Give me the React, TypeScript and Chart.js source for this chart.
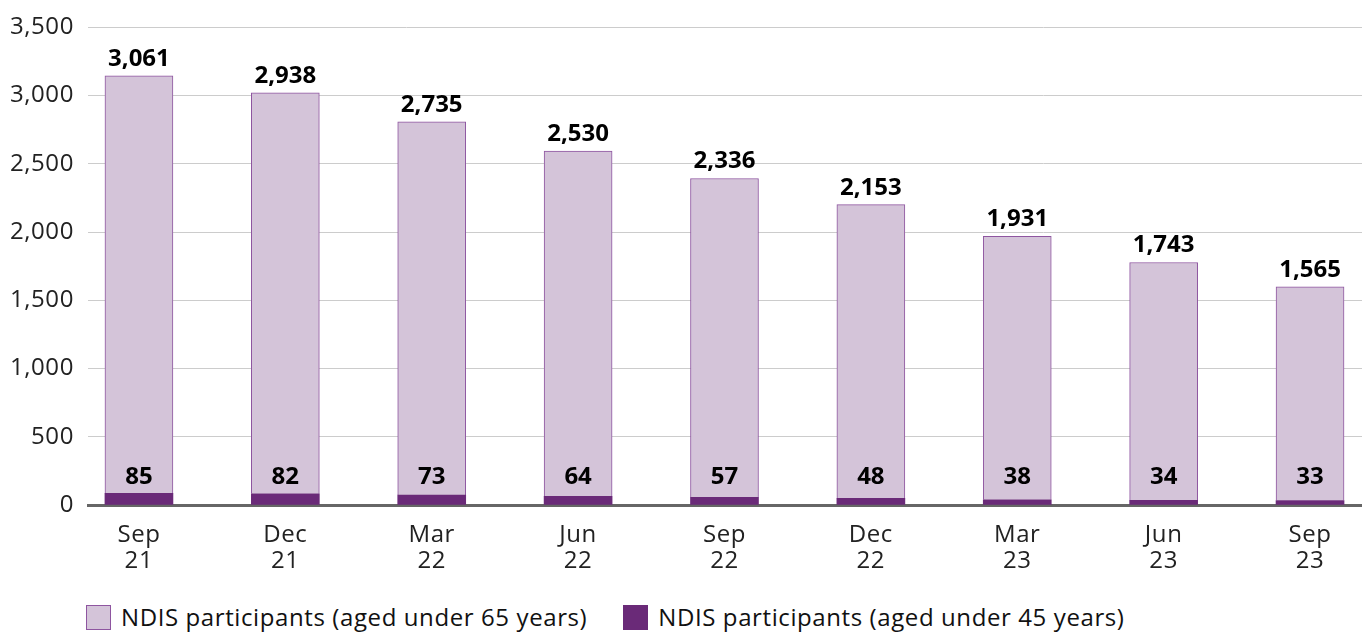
import React, { useEffect, useRef } from "react";
import { Chart, registerables } from "chart.js";

Chart.register(...registerables);

const categories: string[][] = [
  ["Sep", "21"], ["Dec", "21"], ["Mar", "22"], ["Jun", "22"], ["Sep", "22"],
  ["Dec", "22"], ["Mar", "23"], ["Jun", "23"], ["Sep", "23"],
];
const under65: number[] = [3061, 2938, 2735, 2530, 2336, 2153, 1931, 1743, 1565];
const under45: number[] = [85, 82, 73, 64, 57, 48, 38, 34, 33];
const yTicks: number[] = [0, 500, 1000, 1500, 2000, 2500, 3000, 3500];

const LIGHT = "#D4C4D9";
const LIGHT_BORDER = "#8E55A0";
const DARK = "#6A2A78";
const FONT = "'Open Sans', 'DejaVu Sans', sans-serif";
const SPACING = "0.6px";

const fmt = (v: number) => v.toLocaleString("en-US");

const spacingPlugin = {
  id: "letterSpacing",
  beforeLayout(chart: any) { (chart.ctx as any).letterSpacing = SPACING; },
  beforeDraw(chart: any) { (chart.ctx as any).letterSpacing = SPACING; },
};

const labelPlugin = {
  id: "valueLabels",
  afterDatasetsDraw(chart: any) {
    const ctx = chart.ctx;
    const yScale = chart.scales.y;
    const zeroY = yScale.getPixelForValue(0);
    ctx.save();
    (ctx as any).letterSpacing = "0px";
    ctx.fillStyle = "#000";
    ctx.font = `bold 24px ${FONT}`;
    ctx.textAlign = "center";
    const mLight = chart.getDatasetMeta(1);
    mLight.data.forEach((el: any, i: number) => {
      ctx.textBaseline = "bottom";
      ctx.fillText(fmt(under65[i]), el.x, el.y - 5);
    });
    const mDark = chart.getDatasetMeta(0);
    mDark.data.forEach((el: any, i: number) => {
      ctx.textBaseline = "middle";
      ctx.fillText(fmt(under45[i]), el.x, zeroY - 28);
    });
    ctx.restore();
  },
};

export default function App() {
  const ref = useRef<HTMLCanvasElement | null>(null);
  useEffect(() => {
    if (!ref.current) return;
    const chart = new Chart(ref.current, {
      type: "bar",
      data: {
        datasets: [
          {
            label: "NDIS participants (aged under 45 years)",
            data: under45.map((v, i) => ({ x: i, y: v })),
            backgroundColor: DARK,
            borderWidth: 0,
            barThickness: 68,
          },
          {
            label: "NDIS participants (aged under 65 years)",
            data: under65.map((v, i) => ({ x: i, y: v })),
            backgroundColor: LIGHT,
            borderColor: LIGHT_BORDER,
            borderWidth: 1,
            barThickness: 68,
          },
        ],
      },
      options: {
        animation: false,
        responsive: false,
        maintainAspectRatio: false,
        layout: { padding: { top: 11, right: 0, left: 0, bottom: 0 } },
        plugins: { legend: { display: false }, tooltip: { enabled: false } },
        scales: {
          x: {
            type: "linear",
            stacked: true,
            offset: false,
            min: -0.348,
            max: 8.355,
            grid: { display: false, drawTicks: false, offset: false },
            border: { display: true, color: "#666666", width: 3 },
            afterFit: (s: any) => { s.height = 88; },
            ticks: {
              stepSize: 1,
              includeBounds: false,
              autoSkip: false,
              maxRotation: 0,
              padding: 18,
              color: "#222",
              font: { family: FONT, size: 24, lineHeight: 1.05 },
              callback: (v: any) => {
                const idx = Math.round(Number(v));
                return Number.isInteger(Number(v)) && categories[idx] ? categories[idx] : "";
              },
            },
          },
          y: {
            stacked: true,
            min: 0,
            max: 3500,
            afterFit: (s: any) => { s.width = 80; },
            afterBuildTicks: (s: any) => { s.ticks = yTicks.map((v) => ({ value: v })); },
            grid: { color: "#cccccc", lineWidth: 1, drawTicks: false },
            border: { display: false },
            ticks: {
              padding: 14,
              color: "#222",
              font: { family: FONT, size: 24 },
              callback: (v: any) => fmt(Number(v)),
            },
          },
        },
      },
      plugins: [spacingPlugin, labelPlugin],
    } as any);
    return () => chart.destroy();
  }, []);

  const legendItem = (color: string, border: string, text: string, mr: number) => (
    <div style={{ display: "flex", alignItems: "center", marginRight: mr }}>
      <span style={{ display: "inline-block", boxSizing: "border-box", width: 25, height: 25, background: color, border: `1px solid ${border}`, marginRight: 10 }} />
      <span style={{ fontFamily: FONT, fontSize: 24, letterSpacing: SPACING, color: "#111", lineHeight: "28px", whiteSpace: "nowrap" }}>{text}</span>
    </div>
  );

  return (
    <div style={{ position: "relative", width: 1354, height: 625 }}>
      <canvas ref={ref} width={1354} height={594} style={{ display: "block", position: "absolute", left: 0, top: -9 }} />
      <div style={{ position: "absolute", left: 78, top: 595, display: "flex", alignItems: "center" }}>
        {legendItem(LIGHT, LIGHT_BORDER, "NDIS participants (aged under 65 years)", 36)}
        {legendItem(DARK, DARK, "NDIS participants (aged under 45 years)", 0)}
      </div>
    </div>
  );
}
